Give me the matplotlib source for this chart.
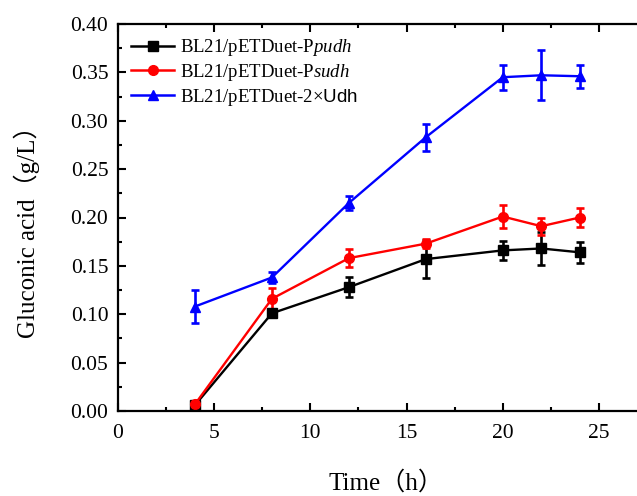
import matplotlib
matplotlib.use("Agg")
import matplotlib.pyplot as plt
from matplotlib.ticker import MultipleLocator
from matplotlib.lines import Line2D

x = [4, 8, 12, 16, 20, 22, 24]
pudh = [0.006, 0.101, 0.128, 0.157, 0.166, 0.168, 0.164]
pudh_err = [0.002, 0.003, 0.010, 0.020, 0.010, 0.017, 0.011]
sudh = [0.007, 0.116, 0.158, 0.173, 0.201, 0.191, 0.200]
sudh_err = [0.002, 0.011, 0.009, 0.005, 0.012, 0.009, 0.010]
udh2 = [0.108, 0.138, 0.215, 0.283, 0.345, 0.347, 0.346]
udh2_err = [0.017, 0.006, 0.007, 0.014, 0.013, 0.026, 0.012]

labels = [r'BL21/pETDuet-P$\it{pudh}$', r'BL21/pETDuet-P$\it{sudh}$', r'BL21/pETDuet-2×$\mathsf{Udh}$']

plt.rcParams['font.family'] = ['Liberation Serif', 'Noto Sans CJK SC']
plt.rcParams['mathtext.fontset'] = 'custom'
plt.rcParams['mathtext.rm'] = 'Liberation Serif'
plt.rcParams['mathtext.it'] = 'Liberation Serif:italic'
plt.rcParams['mathtext.sf'] = 'Liberation Sans'

fig = plt.figure(figsize=(6.37, 4.96), dpi=100)
ax = fig.add_axes([118/637, 85/496, 28*19.24/637, 387/496])

series = [(pudh, pudh_err, 'black', 's'), (sudh, sudh_err, 'red', 'o'), (udh2, udh2_err, 'blue', '^')]
handles = []
for (y, e, c, m), lab in zip(series, labels):
    ax.errorbar(x, y, yerr=e, color=c, marker=m, markersize=7, lw=1.7,
                elinewidth=1.9, capsize=3, capthick=1.9)
    handles.append(Line2D([], [], color=c, marker=m, markersize=7, lw=1.8, label=lab))

ax.set_xlim(0, 28)
ax.set_ylim(0, 0.40)
ax.xaxis.set_major_locator(MultipleLocator(5))
ax.xaxis.set_minor_locator(MultipleLocator(2.5))
ax.yaxis.set_major_locator(MultipleLocator(0.05))
ax.yaxis.set_minor_locator(MultipleLocator(0.025))
ax.set_yticklabels([f'{v:.2f}' for v in ax.get_yticks()])
ax.tick_params(which='both', direction='in', top=True, right=True, labelsize=15.5, width=1.5)
ax.tick_params(which='major', length=6)
ax.tick_params(which='minor', length=3)
ax.tick_params(axis='x', pad=9)
ax.tick_params(axis='y', pad=7)
for s in ax.spines.values():
    s.set_linewidth(1.6)

ax.set_xlabel('Time（h）', fontsize=18)
ax.xaxis.set_label_coords(0.497, -0.155)
ax.set_ylabel('Gluconic acid（g/L）', fontsize=18)
ax.yaxis.set_label_coords(-0.145, 0.478)

leg = ax.legend(handles=handles, loc='upper left', frameon=False, fontsize=13.5, handlelength=2.3,
                borderaxespad=0.3, labelspacing=0.2, handletextpad=0.3)

fig.savefig('out.png', dpi=100)
